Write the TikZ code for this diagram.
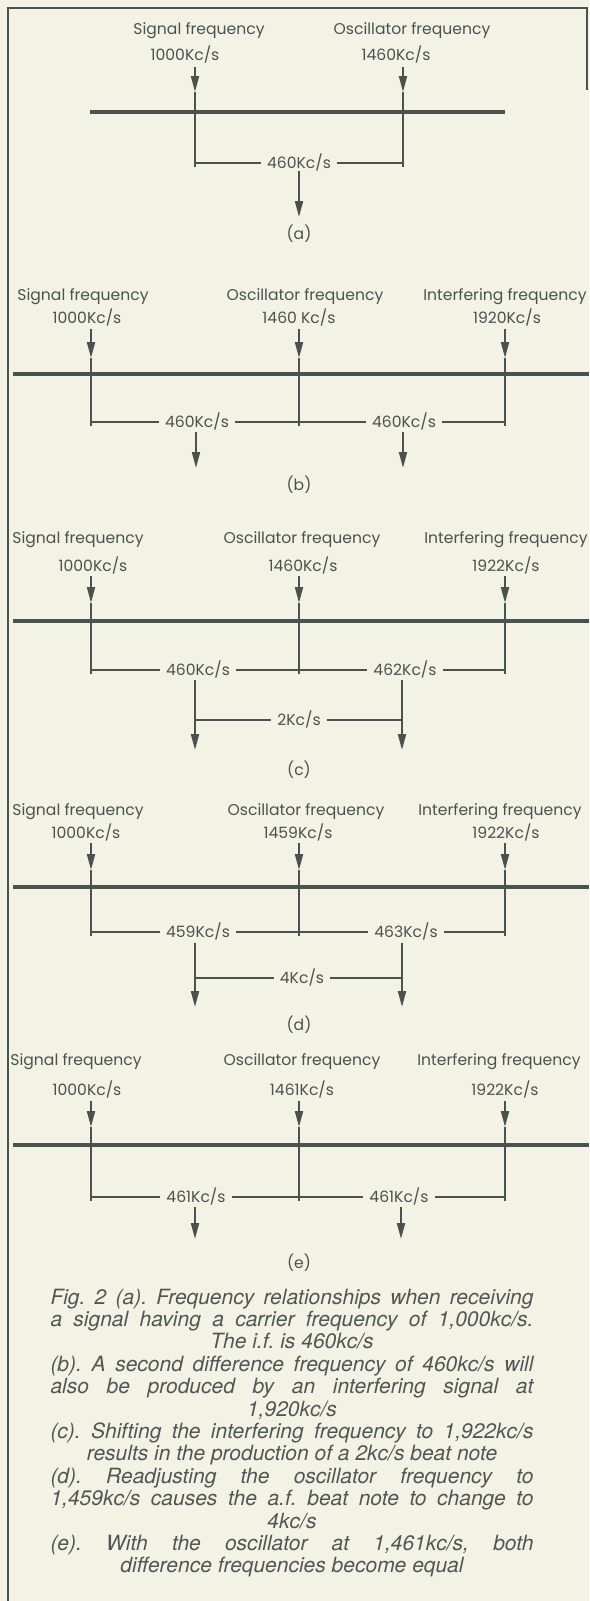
\documentclass[tikz,border=0pt]{standalone}
\usepackage{fontspec}
\setmainfont{TeX Gyre Heros}
\newfontfamily\labfont{Poppins}
\usetikzlibrary{arrows.meta}
\definecolor{bg}{RGB}{243,243,229}
\definecolor{ink}{RGB}{74,82,80}
\definecolor{capink}{RGB}{80,86,86}
\frenchspacing
\tikzset{
  lab/.style={font=\labfont\fontsize{7.8}{9}\selectfont, text=ink, inner sep=0pt, text height=5.6pt, text depth=0pt, anchor=center},
  brk/.style={lab, fill=bg, inner xsep=3pt, inner ysep=1.5pt},
  axisline/.style={line width=2pt, draw=ink},
  stem/.style={line width=1pt, draw=ink},
  thinline/.style={line width=0.7pt, draw=ink},
  arr/.style={stem, -{Triangle[length=8pt,width=4pt]}},
  frameline/.style={line width=1.2pt, draw=ink},
  captext/.style={font=\itshape\fontsize{10.5}{11.2}\selectfont, text=capink, inner sep=0pt, anchor=base},
}
\newcommand{\jline}[1]{\makebox[241.5pt][s]{#1}}
\begin{document}
\begin{tikzpicture}[x=0.5pt,y=-0.5pt]
\fill[bg] (0,0) rectangle (589,1601);
\useasboundingbox (0,0) rectangle (589,1601);
% frame
\coordinate (f1) at (8,1601); \coordinate (f2) at (8,8);
\coordinate (f3) at (587,8); \coordinate (f4) at (587,90);
\draw[frameline] (f1) -- (f2) -- (f3) -- (f4);

%================ (a)
\node[lab] (a-s1) at (199,29) {Signal frequency};
\node[lab] (a-s2) at (185,55) {1000Kc/s};
\node[lab] (a-o1) at (412,29) {Oscillator frequency};
\node[lab] (a-o2) at (396,55) {1460Kc/s};
\coordinate (a-axL) at (90,112); \coordinate (a-axR) at (505,112);
\draw[axisline] (a-axL) -- (a-axR);
\foreach \n/\x in {s/195,o/403}{
  \coordinate (a-\n top) at (\x,67);
  \coordinate (a-\n tip) at (\x,92);
  \coordinate (a-\n bot) at (\x,167);
  \coordinate (a-\n br) at (\x,163);
  \draw[arr] (a-\n top) -- (a-\n tip);
  \draw[stem] (a-\n tip) -- (a-\n bot);
}
\draw[thinline] (a-sbr) -- (a-obr);
\node[brk] (a-d) at (299,163) {460Kc/s};
\coordinate (a-dt) at (299,171); \coordinate (a-de) at (299,217);
\draw[arr] (a-dt) -- (a-de);
\node[lab] (a-lab) at (299,234) {(a)};

%================ (b)
\node[lab] (b-s1) at (83,295) {Signal frequency};
\node[lab] (b-s2) at (87,318) {1000Kc/s};
\node[lab] (b-o1) at (305,295) {Oscillator frequency};
\node[lab] (b-o2) at (299,318) {1460 Kc/s};
\node[lab] (b-i1) at (505,295) {Interfering frequency};
\node[lab] (b-i2) at (507,318) {1920Kc/s};
\coordinate (b-axL) at (13,374); \coordinate (b-axR) at (589,374);
\draw[axisline] (b-axL) -- (b-axR);
\foreach \n/\x in {s/91,o/299,i/505}{
  \coordinate (b-\n top) at (\x,329);
  \coordinate (b-\n tip) at (\x,358);
  \coordinate (b-\n bot) at (\x,426);
  \coordinate (b-\n br) at (\x,422);
  \draw[arr] (b-\n top) -- (b-\n tip);
  \draw[stem] (b-\n tip) -- (b-\n bot);
}
\draw[thinline] (b-sbr) -- (b-ibr);
\node[brk] (b-d1) at (197,422) {460Kc/s};
\node[brk] (b-d2) at (404,422) {460Kc/s};
\coordinate (b-d1t) at (196,432); \coordinate (b-d1e) at (196,468);
\coordinate (b-d2t) at (403,432); \coordinate (b-d2e) at (403,468);
\draw[arr] (b-d1t) -- (b-d1e);
\draw[arr] (b-d2t) -- (b-d2e);
\node[lab] (b-lab) at (299,485) {(b)};

%================ (c)
\node[lab] (c-s1) at (78,538) {Signal frequency};
\node[lab] (c-s2) at (93,566) {1000Kc/s};
\node[lab] (c-o1) at (302,538) {Oscillator frequency};
\node[lab] (c-o2) at (303,566) {1460Kc/s};
\node[lab] (c-i1) at (506,538) {Interfering frequency};
\node[lab] (c-i2) at (506,566) {1922Kc/s};
\coordinate (c-axL) at (13,621); \coordinate (c-axR) at (589,621);
\draw[axisline] (c-axL) -- (c-axR);
\foreach \n/\x in {s/91,o/299,i/505}{
  \coordinate (c-\n top) at (\x,576);
  \coordinate (c-\n tip) at (\x,603);
  \coordinate (c-\n bot) at (\x,674);
  \coordinate (c-\n br) at (\x,670);
  \draw[arr] (c-\n top) -- (c-\n tip);
  \draw[stem] (c-\n tip) -- (c-\n bot);
}
\draw[thinline] (c-sbr) -- (c-ibr);
\node[brk] (c-d1) at (198,670) {460Kc/s};
\node[brk] (c-d2) at (405,670) {462Kc/s};
\coordinate (c-d1t) at (195,680); \coordinate (c-d1e) at (195,750);
\coordinate (c-d2t) at (402,680); \coordinate (c-d2e) at (402,750);
\coordinate (c-b1) at (195,720); \coordinate (c-b2) at (402,720);
\draw[arr] (c-d1t) -- (c-d1e);
\draw[arr] (c-d2t) -- (c-d2e);
\draw[thinline] (c-b1) -- (c-b2);
\node[brk] (c-beat) at (299,720) {2Kc/s};
\node[lab] (c-lab) at (299,770) {(c)};

%================ (d)
\node[lab] (d-s1) at (78,810) {Signal frequency};
\node[lab] (d-s2) at (86,833) {1000Kc/s};
\node[lab] (d-o1) at (306,810) {Oscillator frequency};
\node[lab] (d-o2) at (298,833) {1459Kc/s};
\node[lab] (d-i1) at (500,810) {Interfering frequency};
\node[lab] (d-i2) at (506,833) {1922Kc/s};
\coordinate (d-axL) at (13,887); \coordinate (d-axR) at (589,887);
\draw[axisline] (d-axL) -- (d-axR);
\foreach \n/\x in {s/91,o/299,i/505}{
  \coordinate (d-\n top) at (\x,843);
  \coordinate (d-\n tip) at (\x,870);
  \coordinate (d-\n bot) at (\x,936);
  \coordinate (d-\n br) at (\x,932);
  \draw[arr] (d-\n top) -- (d-\n tip);
  \draw[stem] (d-\n tip) -- (d-\n bot);
}
\draw[thinline] (d-sbr) -- (d-ibr);
\node[brk] (d-d1) at (198,932) {459Kc/s};
\node[brk] (d-d2) at (406,932) {463Kc/s};
\coordinate (d-d1t) at (195,943); \coordinate (d-d1e) at (195,1007);
\coordinate (d-d2t) at (402,943); \coordinate (d-d2e) at (402,1007);
\coordinate (d-b1) at (195,978); \coordinate (d-b2) at (402,978);
\draw[arr] (d-d1t) -- (d-d1e);
\draw[arr] (d-d2t) -- (d-d2e);
\draw[thinline] (d-b1) -- (d-b2);
\node[brk] (d-beat) at (302,978) {4Kc/s};
\node[lab] (d-lab) at (299,1025) {(d)};

%================ (e)
\node[lab] (e-s1) at (76,1060) {Signal frequency};
\node[lab] (e-s2) at (87,1090) {1000Kc/s};
\node[lab] (e-o1) at (302,1060) {Oscillator frequency};
\node[lab] (e-o2) at (302,1090) {1461Kc/s};
\node[lab] (e-i1) at (499,1060) {Interfering frequency};
\node[lab] (e-i2) at (505,1090) {1922Kc/s};
\coordinate (e-axL) at (13,1145); \coordinate (e-axR) at (589,1145);
\draw[axisline] (e-axL) -- (e-axR);
\foreach \n/\x in {s/91,o/299,i/505}{
  \coordinate (e-\n top) at (\x,1101);
  \coordinate (e-\n tip) at (\x,1127);
  \coordinate (e-\n bot) at (\x,1201);
  \coordinate (e-\n br) at (\x,1197);
  \draw[arr] (e-\n top) -- (e-\n tip);
  \draw[stem] (e-\n tip) -- (e-\n bot);
}
\draw[thinline] (e-sbr) -- (e-ibr);
\node[brk] (e-d1) at (196,1197) {461Kc/s};
\node[brk] (e-d2) at (399,1197) {461Kc/s};
\coordinate (e-d1t) at (195,1207); \coordinate (e-d1e) at (195,1239);
\coordinate (e-d2t) at (401,1207); \coordinate (e-d2e) at (401,1239);
\draw[arr] (e-d1t) -- (e-d1e);
\draw[arr] (e-d2t) -- (e-d2e);
\node[lab] (e-lab) at (299,1263) {(e)};

%================ caption
\node[captext] (c01) at (292,1304.0) {\jline{Fig.\ 2 (a). Frequency relationships when receiving}};
\node[captext] (c02) at (292,1326.4) {\jline{a signal having a carrier frequency of 1,000kc/s.}};
\node[captext] (c03) at (292,1348.8) {The i.f. is 460kc/s};
\node[captext] (c04) at (292,1371.2) {\jline{(b). A second difference frequency of 460kc/s will}};
\node[captext] (c05) at (292,1393.6) {\jline{also be produced by an interfering signal at}};
\node[captext] (c06) at (292,1416.0) {1,920kc/s};
\node[captext] (c07) at (292,1438.4) {\jline{(c). Shifting the interfering frequency to 1,922kc/s}};
\node[captext] (c08) at (292,1460.8) {results in the production of a 2kc/s beat note};
\node[captext] (c09) at (292,1483.2) {\jline{(d). Readjusting the oscillator frequency to}};
\node[captext] (c10) at (292,1505.6) {\jline{1,459kc/s causes the a.f. beat note to change to}};
\node[captext] (c11) at (292,1528.0) {4kc/s};
\node[captext] (c12) at (292,1550.4) {\jline{(e). With the oscillator at 1,461kc/s, both}};
\node[captext] (c13) at (292,1572.8) {difference frequencies become equal};
\end{tikzpicture}
\end{document}
